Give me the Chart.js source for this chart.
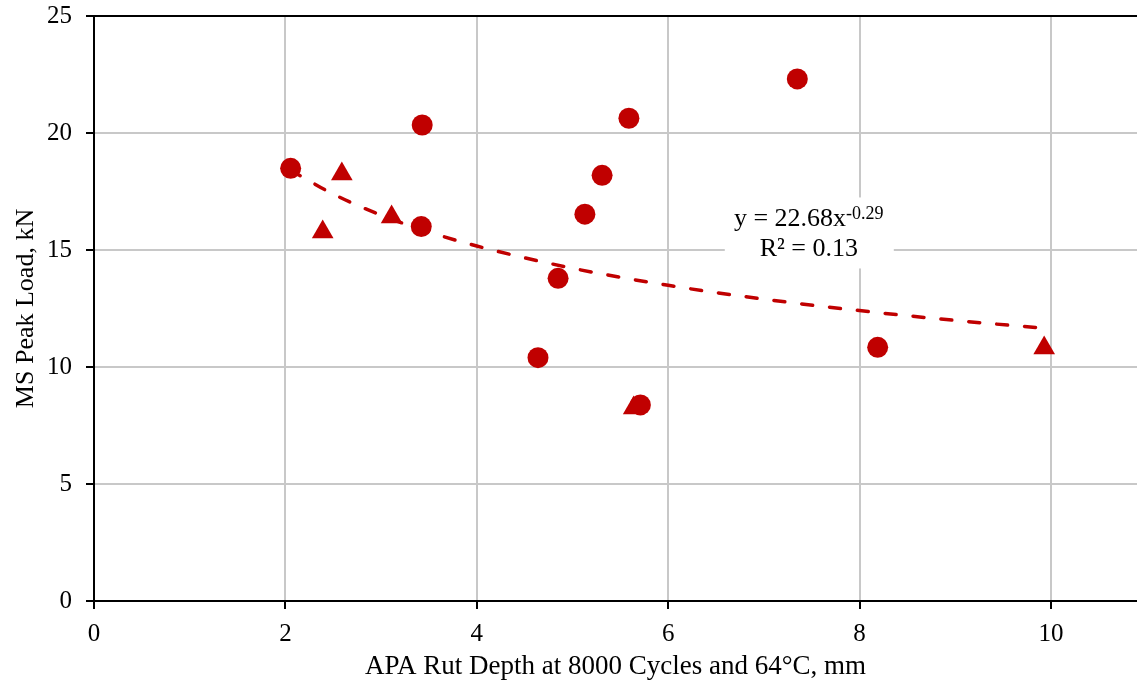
<!DOCTYPE html>
<html>
<head>
<meta charset="utf-8">
<script src="https://cdn.jsdelivr.net/npm/chart.js@4.4.0/dist/chart.umd.min.js"></script>
<style>
  html, body { margin: 0; padding: 0; background: #fff; }
  #wrap { width: 1137px; height: 687px; }
</style>
</head>
<body>
<div id="wrap"><canvas id="canvas"></canvas></div>
<script>
// circles
var circleX = [2.055, 3.43, 3.42, 4.85, 4.64, 5.13, 5.31, 5.59, 5.71, 7.35, 8.19]
var circleY = [18.49, 20.34, 16.00, 13.79, 10.40, 16.53, 18.19, 20.63, 8.38, 22.31, 10.84]
// triangles
var triX = [2.59, 2.39, 3.11, 5.64, 9.93]
var triY = [18.25, 15.77, 16.41, 8.25, 10.81]
// power trendline
var trendX = [2.055, 2.5, 3, 3.5, 4, 5, 6, 7, 8, 9, 9.93]
var trendY = [18.41, 17.39, 16.49, 15.77, 15.17, 14.22, 13.49, 12.90, 12.41, 11.99, 11.66]

var xTicks = [0, 2, 4, 6, 8, 10]
var yTicks = [0, 5, 10, 15, 20, 25]

var eqMain = "y = 22.68x"
var eqSup = "-0.29"
var eqR2 = "R\u00b2 = 0.13"

var red = "#c00000"
var serif = "'Liberation Serif', 'Times New Roman', serif"

function pts(xs, ys){
    var out = []
    for (var i = 0; i < xs.length; i++) out.push({x: xs[i], y: ys[i]})
    return out
}

var eqBox = {
    id: "eqBox",
    beforeDatasetsDraw: function(chart){
        var ctx = chart.ctx
        var cx = chart.scales.x.getPixelForValue(7.47)
        var cy = chart.scales.y.getPixelForValue(15.75)
        ctx.save()
        ctx.fillStyle = "#fff"
        ctx.fillRect(cx - 84, cy - 35, 169, 71)
        ctx.fillStyle = "#000"
        ctx.textBaseline = "alphabetic"
        ctx.font = "26px " + serif
        var w1 = ctx.measureText(eqMain).width
        ctx.font = "18px " + serif
        var w2 = ctx.measureText(eqSup).width
        var left = cx - (w1 + w2) / 2
        ctx.font = "26px " + serif
        ctx.textAlign = "left"
        ctx.fillText(eqMain, left, cy - 6)
        ctx.font = "18px " + serif
        ctx.fillText(eqSup, left + w1, cy - 13)
        ctx.font = "26px " + serif
        ctx.textAlign = "center"
        ctx.fillText(eqR2, cx, cy + 24)
        ctx.restore()
    }
}

var chart = new Chart(canvas, {
    type: "scatter",
    data: {
        datasets: [{
            label: "circles",
            data: pts(circleX, circleY),
            pointStyle: "circle",
            pointRadius: 10.5,
            pointHoverRadius: 10.5,
            backgroundColor: red,
            borderColor: red,
            borderWidth: 0
        }, {
            label: "triangles",
            data: pts(triX, triY),
            pointStyle: "triangle",
            pointRadius: 12.5,
            pointHoverRadius: 12.5,
            backgroundColor: red,
            borderColor: red,
            borderWidth: 0
        }, {
            label: "trend",
            data: pts(trendX, trendY),
            showLine: true,
            pointRadius: 0,
            borderColor: red,
            borderWidth: 3.5,
            borderDash: [11, 17],
            borderCapStyle: "round",
            cubicInterpolationMode: "monotone",
            fill: false
        }]
    },
    options: {
        responsive: true,
        maintainAspectRatio: false,
        animation: false,
        layout: { autoPadding: false, padding: { top: 16, right: 0, left: 0, bottom: 0 } },
        plugins: {
            legend: { display: false },
            tooltip: { enabled: false }
        },
        scales: {
            x: {
                type: "linear",
                min: 0,
                max: 10.9,
                afterFit: function(s){ s.height = 86; s.paddingLeft = 0; s.paddingRight = 0 },
                afterBuildTicks: function(s){ s.ticks = xTicks.map(function(v){ return {value: v} }) },
                ticks: {
                    includeBounds: false,
                    color: "#000",
                    padding: 10,
                    font: { family: serif, size: 25 }
                },
                border: { color: "#000", width: 2 },
                grid: {
                    color: "#c8c8c8",
                    lineWidth: 2,
                    tickColor: "#000",
                    tickLength: 8
                },
                title: {
                    display: true,
                    text: "APA Rut Depth at 8000 Cycles and 64°C, mm",
                    color: "#000",
                    padding: { top: 10 },
                    font: { family: serif, size: 27 }
                }
            },
            y: {
                min: 0,
                max: 25,
                afterFit: function(s){ s.width = 94; s.paddingTop = 0; s.paddingBottom = 0 },
                afterBuildTicks: function(s){ s.ticks = yTicks.map(function(v){ return {value: v} }) },
                ticks: {
                    color: "#000",
                    padding: 14,
                    font: { family: serif, size: 25 }
                },
                border: { color: "#000", width: 2 },
                grid: {
                    color: function(c){ return c.tick && c.tick.value === 25 ? "#000" : "#c8c8c8" },
                    lineWidth: 2,
                    tickColor: "#000",
                    tickLength: 8
                },
                title: {
                    display: true,
                    text: "MS Peak Load, kN",
                    color: "#000",
                    padding: { top: 11, bottom: 0 },
                    font: { family: serif, size: 26 }
                }
            }
        }
    },
    plugins: [eqBox]
})
</script>
</body>
</html>
